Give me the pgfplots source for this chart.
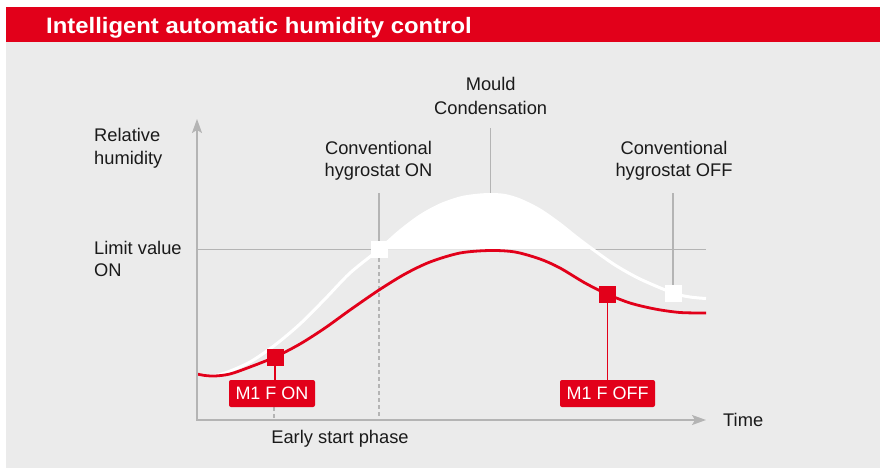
\documentclass[border=0pt]{standalone}
\usepackage{pgfplots}
\pgfplotsset{compat=1.18}
\usepackage{fontspec}
\setmainfont{Liberation Sans}
\usetikzlibrary{arrows.meta}
\definecolor{brandred}{HTML}{E2001A}
\definecolor{panel}{HTML}{EBEBEB}
\definecolor{axgrey}{HTML}{B4B4B4}
\definecolor{txt}{HTML}{1A1A1A}
\begin{document}
\begin{tikzpicture}
\begin{axis}[
  scale only axis, width=885pt, height=468pt,
  xmin=0, xmax=885, ymin=0, ymax=468, y dir=reverse,
  hide axis, clip=false,
]
% background
\fill[white] (axis cs:0,0) rectangle (axis cs:885,468);
\fill[panel] (axis cs:6,42) rectangle (axis cs:880,468);
\fill[brandred] (axis cs:6,7) rectangle (axis cs:880,42);
\node[anchor=base west, text=white, inner sep=0pt] at (axis cs:46,33.3)
  {\scalebox{1.07}[1]{\fontsize{22.3}{26}\selectfont\bfseries Intelligent automatic humidity control}};

% limit line and guide lines
\addplot[axgrey, line width=1.3pt] coordinates {(197,249.5) (706,249.5)};
\addplot[axgrey, line width=1.3pt] coordinates {(379,193) (379,249.5)};
\addplot[axgrey, line width=1.3pt, dashed, dash pattern=on 4pt off 3pt] coordinates {(379,258) (379,420)};
\addplot[axgrey, line width=1.3pt] coordinates {(490.7,128) (490.7,195)};
\addplot[axgrey, line width=1.3pt] coordinates {(673,193) (673,293)};
\addplot[axgrey, line width=1.3pt, dashed, dash pattern=on 4pt off 3pt] coordinates {(274,407) (274,420)};

% white fill above limit
\addplot[fill=white, draw=none, smooth] coordinates {
 (379,249.5) (400,231) (420,216) (440,205) (460,198) (475,195.5) (490,194.5) (505,195.5)
 (520,200) (540,210) (560,224) (575,236) (593,249.5)};
% white curve
\addplot[white, line width=3pt, smooth] coordinates {
 (197,374) (210,376) (225,373) (250,362) (275,345) (300,324) (325,299) (350,273)
 (379,249.5) (400,231) (420,216) (440,205) (460,198) (475,195.5) (490,194.5) (505,195.5)
 (520,200) (540,210) (560,224) (575,236) (593,249.5) (615,265) (640,279) (673,293) (690,297) (706,298.5)};
% red curve
\addplot[brandred, line width=2.8pt, smooth] coordinates {
 (197,374) (205,375.5) (215,376) (230,374) (250,367) (275,357) (300,344) (325,328)
 (350,310) (379,290) (405,274) (430,262) (460,253) (490,250.5) (515,252) (540,259)
 (560,268) (585,283) (607,294) (630,303) (655,309) (680,312.5) (706,313)};

% axes
\draw[axgrey, line width=1.6pt, -{Stealth[length=14pt,width=10pt,inset=3pt]}] (axis cs:197,420) -- (axis cs:197,119);
\draw[axgrey, line width=1.6pt, -{Stealth[length=14pt,width=10pt,inset=3pt]}] (axis cs:196.2,420) -- (axis cs:706,420);

% red sticks
\addplot[brandred, line width=1.2pt] coordinates {(275,357) (275,381)};
\addplot[brandred, line width=1.2pt] coordinates {(607.5,294) (607.5,381)};

% markers
\addplot[only marks, mark=square*, mark size=8pt, mark options={fill=white, draw=white, rounded corners=2pt}] coordinates {(379,249.5) (673,293)};
\addplot[only marks, mark=square*, mark size=8pt, mark options={fill=brandred, draw=brandred, rounded corners=2pt}] coordinates {(275,357) (607.5,294)};

% label boxes
\node[fill=brandred, rounded corners=2pt, text=white, minimum width=86pt, minimum height=27pt, inner sep=0pt,
  font=\fontsize{18}{22}\selectfont] at (axis cs:272,393.5) {M1 F ON};
\node[fill=brandred, rounded corners=2pt, text=white, minimum width=95pt, minimum height=27pt, inner sep=0pt,
  font=\fontsize{18}{22}\selectfont] at (axis cs:607.5,393.5) {M1 F OFF};

% texts
\begin{scope}[every node/.style={inner sep=0pt, text=txt, font=\fontsize{18.3}{22}\selectfont}]
\node[anchor=base west] at (axis cs:94,141) {Relative};
\node[anchor=base west] at (axis cs:94,164) {humidity};
\node[anchor=base west] at (axis cs:94,254) {Limit value};
\node[anchor=base west] at (axis cs:94,276.5) {ON};
\node[anchor=base] at (axis cs:378.5,154) {Conventional};
\node[anchor=base] at (axis cs:378.5,176.5) {hygrostat ON};
\node[anchor=base] at (axis cs:490.7,90.7) {Mould};
\node[anchor=base] at (axis cs:490.7,114) {Condensation};
\node[anchor=base] at (axis cs:674,154) {Conventional};
\node[anchor=base] at (axis cs:674,176.5) {hygrostat OFF};
\node[anchor=base west] at (axis cs:723,426) {Time};
\node[anchor=base] at (axis cs:340,443) {Early start phase};
\end{scope}
\end{axis}
\end{tikzpicture}
\end{document}
